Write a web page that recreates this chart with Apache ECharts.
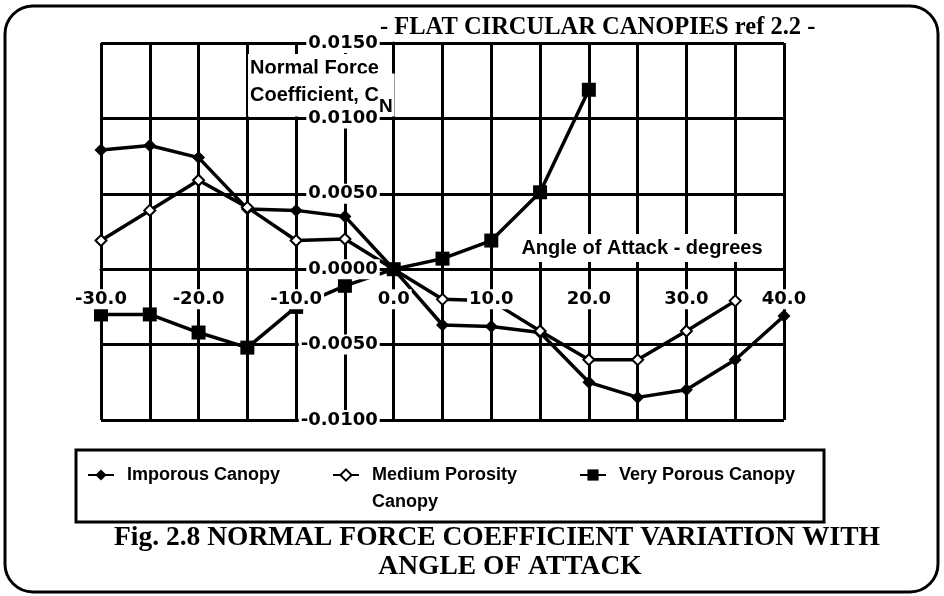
<!DOCTYPE html>
<html>
<head>
<meta charset="utf-8">
<script src="https://cdn.jsdelivr.net/npm/echarts@6/dist/echarts.min.js"></script>
<style>
html, body { margin: 0; padding: 0; background: #fff; }
#chart { width: 944px; height: 596px; }
</style>
</head>
<body>
<div id="chart"></div>
<script>
// angle of attack, degrees
var angles = [-30, -25, -20, -15, -10, -5, 0, 5, 10, 15, 20, 25, 30, 35, 40];
// normal force coefficient CN, one value per angle
var imporous = [0.0079, 0.0082, 0.0074, 0.0040, 0.0039, 0.0035, 0.0000, -0.0037, -0.0038, -0.0042, -0.0075, -0.0085, -0.0080, -0.0060, -0.0031];
var medium = [0.0019, 0.0039, 0.0059, 0.0041, 0.0019, 0.0020, 0.0000, -0.0020, -0.0021, -0.0041, -0.0060, -0.0060, -0.0041, -0.0021];
var veryPorous = [-0.0030, -0.0030, -0.0042, -0.0052, -0.0025, -0.0011, 0.0000, 0.0007, 0.0019, 0.0051, 0.0119];
var seriesNames = ['Imporous Canopy', 'Medium Porosity Canopy', 'Very Porous Canopy'];
var xRange = [-30, 40];
var yRange = [-0.01, 0.015];

var sans = 'Liberation Sans';
var serif = 'Liberation Serif';

function pairs(vals) {
	return vals.map(function (v, i) { return [angles[i], v]; });
}

var W = 944, H = 596;
var grid = { left: 101, right: 160, top: 43, bottom: 176 };
//label axes sit on the zero lines (the offsets move them from the grid edge)
var xZeroOffset = -(H - grid.top - grid.bottom) * (0 - yRange[0]) / (yRange[1] - yRange[0]);
var yZeroOffset = -(W - grid.left - grid.right) * (0 - xRange[0]) / (xRange[1] - xRange[0]);

var chart = echarts.init(document.getElementById('chart'));

//legend item, shared look
function legendItem(name, left, top, fmt) {
	return {
		data: [name],
		left: left,
		top: top,
		padding: 0,
		itemWidth: 26,
		itemHeight: 14,
		selectedMode: false,
		formatter: fmt,
		textStyle: { fontFamily: sans, fontWeight: 'bold', fontSize: 18, color: '#000', lineHeight: fmt ? 27 : 20, padding: [0, 0, 0, 8] }
	};
}

var black = { color: '#000', width: 3 };
var numFont = { color: '#000', fontFamily: 'DejaVu Sans', fontWeight: 'bold', fontSize: 18, backgroundColor: '#fff', padding: [1, 2] };

chart.setOption({
	animation: false,
	backgroundColor: '#fff',
	grid: grid,
	xAxis: [{
		type: 'value', min: xRange[0], max: xRange[1], interval: 5,
		axisLine: { lineStyle: black },
		axisTick: { show: false },
		axisLabel: { show: false },
		splitLine: { lineStyle: black }
	}, {
		//labels only, drawn over the lines
		type: 'value', position: 'bottom', offset: xZeroOffset, min: xRange[0], max: xRange[1], interval: 10, z: 10,
		axisLine: { show: false },
		axisTick: { show: false },
		splitLine: { show: false },
		axisLabel: echarts.util.extend({ margin: 20, formatter: function (v) { return v.toFixed(1); } }, numFont)
	}],
	yAxis: [{
		type: 'value', min: yRange[0], max: yRange[1], interval: 0.005,
		axisLine: { lineStyle: black },
		axisTick: { show: false },
		axisLabel: { show: false },
		splitLine: { lineStyle: black }
	}, {
		type: 'value', position: 'left', offset: yZeroOffset, min: yRange[0], max: yRange[1], interval: 0.005, z: 10,
		axisLine: { show: false },
		axisTick: { show: false },
		splitLine: { show: false },
		axisLabel: echarts.util.extend({ margin: 14, formatter: function (v) { return v.toFixed(4); } }, numFont)
	}],
	legend: [
		legendItem(seriesNames[0], 87, 465),
		//blank first line keeps the icon level with "Medium Porosity"
		legendItem(seriesNames[1], 332, 434.5, function () { return ' \nMedium Porosity\nCanopy'; }),
		legendItem(seriesNames[2], 579, 465)
	],
	series: [{
		name: seriesNames[0], type: 'line', data: pairs(imporous),
		symbol: 'diamond', symbolSize: 13,
		lineStyle: { color: '#000', width: 3.5 }, itemStyle: { color: '#000' }
	}, {
		name: seriesNames[1], type: 'line', data: pairs(medium),
		symbol: 'emptyDiamond', symbolSize: 11,
		lineStyle: { color: '#000', width: 3.5 }, itemStyle: { color: '#000', borderColor: '#000', borderWidth: 2 }
	}, {
		name: seriesNames[2], type: 'line', data: pairs(veryPorous),
		symbol: 'rect', symbolSize: 14,
		lineStyle: { color: '#000', width: 3.5 }, itemStyle: { color: '#000' }
	}],
	graphic: [{
		type: 'rect', z: 100,
		shape: { x: 5, y: 6, width: 933, height: 586, r: 28 },
		style: { fill: 'none', stroke: '#000', lineWidth: 3 }
	}, {
		type: 'rect', z: 100,
		shape: { x: 76, y: 450, width: 748, height: 72 },
		style: { fill: 'none', stroke: '#000', lineWidth: 3 }
	}, {
		type: 'text', z: 100, x: 380, y: 28,
		style: { text: '- FLAT CIRCULAR CANOPIES ref 2.2 -', font: 'bold 24.5px "' + serif + '"', fill: '#000', verticalAlign: 'middle', textVerticalAlign: 'middle', backgroundColor: '#fff' }
	}, {
		type: 'text', z: 100, x: 497, y: 538,
		style: { text: 'Fig. 2.8 NORMAL FORCE COEFFICIENT VARIATION WITH', font: 'bold 27.5px "' + serif + '"', fill: '#000', align: 'center', textAlign: 'center', verticalAlign: 'middle', textVerticalAlign: 'middle' }
	}, {
		type: 'text', z: 100, x: 510, y: 567,
		style: { text: 'ANGLE OF ATTACK', font: 'bold 27.5px "' + serif + '"', fill: '#000', align: 'center', textAlign: 'center', verticalAlign: 'middle', textVerticalAlign: 'middle' }
	}, {
		//y axis title, under the tick labels
		type: 'text', z: 5, x: 248, y: 68,
		style: { text: 'Normal Force', font: 'bold 20px "' + sans + '"', fill: '#000', verticalAlign: 'middle', textVerticalAlign: 'middle', backgroundColor: '#fff', padding: [4, 2] }
	}, {
		type: 'text', z: 5, x: 248, y: 95,
		style: {
			text: 'Coefficient, C{sub|N}', font: 'bold 20px "' + sans + '"', fill: '#000',
			verticalAlign: 'middle', textVerticalAlign: 'middle', backgroundColor: '#fff', padding: [0, 2],
			rich: { sub: { fontFamily: sans, fontWeight: 'bold', fontSize: 19, padding: [24, 0, 0, 0] } }
		}
	}, {
		//x axis title
		type: 'text', z: 100, x: 642, y: 248,
		style: { text: 'Angle of Attack - degrees', font: 'bold 20px "' + sans + '"', fill: '#000', align: 'center', textAlign: 'center', verticalAlign: 'middle', textVerticalAlign: 'middle', backgroundColor: '#fff', padding: [4, 3] }
	}]
});
</script>
</body>
</html>
